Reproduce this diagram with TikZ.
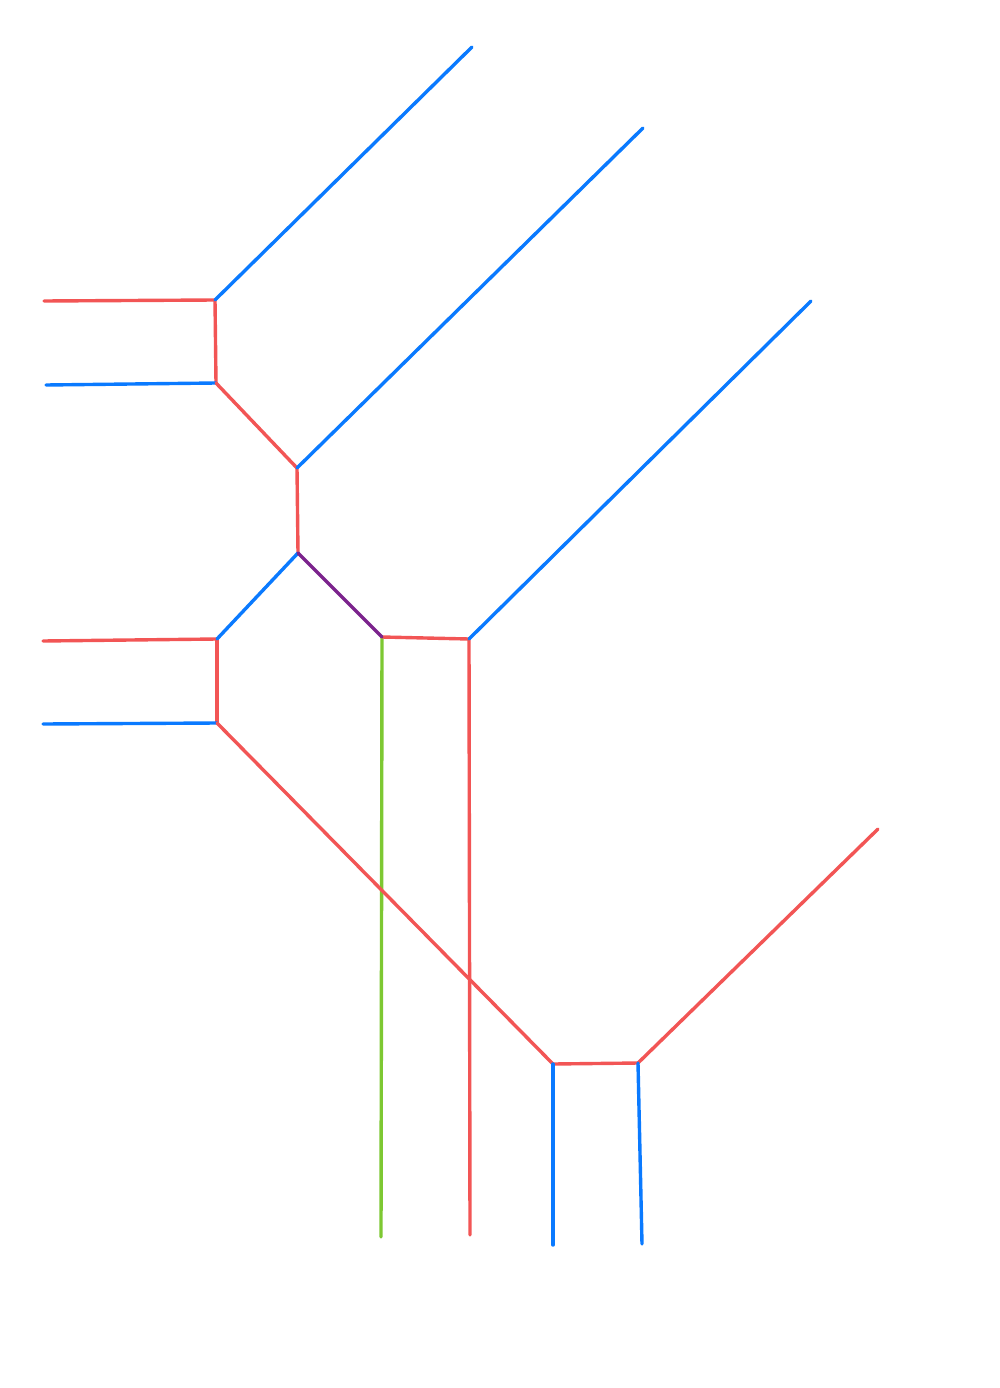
\documentclass[tikz,border=0pt]{standalone}
\definecolor{cblue}{RGB}{10,122,255}
\definecolor{cred}{RGB}{242,85,85}
\definecolor{cgreen}{RGB}{125,200,50}
\definecolor{cpurple}{RGB}{123,35,140}
\begin{document}
\begin{tikzpicture}[x=1pt,y=-1pt,
  seg/.style={line width=3.4pt,line cap=round,line join=round},
  bl/.style={seg,cblue}, rd/.style={seg,cred}, gr/.style={seg,cgreen}, pu/.style={seg,cpurple}]
\useasboundingbox (0,0) rectangle (1000,1388);
% vertices
\coordinate (a) at (215,300);
\coordinate (b) at (216,383);
\coordinate (c) at (297,468);
\coordinate (d) at (298,553);
\coordinate (e) at (217,639);
\coordinate (f) at (217,723);
\coordinate (g) at (382,637);
\coordinate (h) at (469,639);
\coordinate (i) at (553,1064);
\coordinate (j) at (638,1063);
% free ends
\coordinate (a1) at (472,47);
\coordinate (a2) at (44,301);
\coordinate (b1) at (46,385);
\coordinate (c1) at (643,128);
\coordinate (e1) at (43,641);
\coordinate (f1) at (43,724);
\coordinate (g1) at (381,1237);
\coordinate (h1) at (470,1235);
\coordinate (h2) at (811,301);
\coordinate (i1) at (553,1245);
\coordinate (j1) at (642,1244);
\coordinate (j2) at (878,829);
% edges
\draw[rd] (a2) -- (a);
\draw[rd] (a) -- (b);
\draw[bl] (b1) -- (b);
\draw[rd] (b) -- (c);
\draw[rd] (c) -- (d);
\draw[rd] (e1) -- (e);
\draw[rd] (e) -- (f);
\draw[bl] (f1) -- (f);
\draw[gr] (g) -- (g1);
\draw[rd] (h) -- (h1);
\draw[rd] (f) -- (i);
\draw[rd] (g) -- (h);
\draw[rd] (i) -- (j);
\draw[rd] (j) -- (j2);
\draw[bl] (i) -- (i1);
\draw[bl] (j) -- (j1);
\draw[bl] (a) -- (a1);
\draw[bl] (c) -- (c1);
\draw[bl] (d) -- (e);
\draw[bl] (h) -- (h2);
\draw[pu] (d) -- (g);
\end{tikzpicture}
\end{document}
